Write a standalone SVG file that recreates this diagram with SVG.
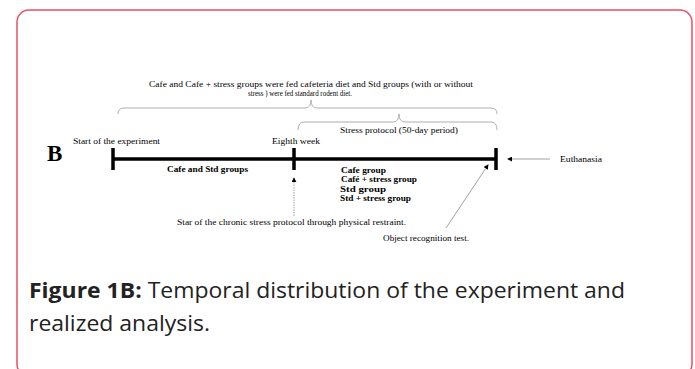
<svg xmlns="http://www.w3.org/2000/svg" width="695" height="369" viewBox="0 0 695 369">
<style>
.s{font-family:"Liberation Serif",serif;font-size:9px;fill:#000}
.b{font-family:"Liberation Serif",serif;font-size:9px;font-weight:bold;fill:#000}
.br{fill:none;stroke:#9a9a9a;stroke-width:0.8}
.tl{stroke:#000;stroke-width:3.5;fill:none}
.ar{stroke:#888;stroke-width:0.8;fill:none}
.cap{font-family:"Open Sans","Noto Sans",sans-serif;font-size:22px;fill:#222}
</style>
<defs>
<marker id="ah" viewBox="0 0 6 6" refX="5" refY="3" markerWidth="5" markerHeight="5" orient="auto" markerUnits="userSpaceOnUse">
<path d="M0,0 L6,3 L0,6 z" fill="#000"/>
</marker>
</defs>
<rect x="17" y="10" width="675" height="366" rx="12" ry="12" fill="#fff" stroke="#e8506a" stroke-width="1.5"/>

<g id="header">
<text class="s" x="149" y="87" textLength="324" lengthAdjust="spacingAndGlyphs">Cafe and Cafe + stress groups were fed cafeteria diet and Std groups (with or without</text>
<text class="s" x="248" y="96" textLength="104" lengthAdjust="spacingAndGlyphs">stress ) were fed standard rodent diet.</text>
</g>

<g id="connectors">
<path class="br" d="M118,114 Q118,108 124,108 H305 Q311,108 311,100 Q311,108 317,108 H491 Q497,108 497,114"/>
<path class="br" d="M298,130 Q298,122 304,122 H393 Q399,122 399,114 Q399,122 405,122 H491 Q497,122 497,130"/>
<line class="ar" x1="294" y1="216" x2="294" y2="178" stroke-dasharray="1.5,1" marker-end="url(#ah)"/>
<line class="ar" x1="550" y1="159" x2="508" y2="159" marker-end="url(#ah)"/>
<line class="ar" x1="446" y1="228" x2="488" y2="165" marker-end="url(#ah)"/>
</g>

<g id="timeline">
<line class="tl" x1="113" y1="159" x2="496" y2="159"/>
<line class="tl" x1="113" y1="148" x2="113" y2="170"/>
<line class="tl" x1="294" y1="148" x2="294" y2="170"/>
<line class="tl" x1="496" y1="148" x2="496" y2="170"/>
</g>

<g id="label-B"><text x="47" y="161" font-family="Liberation Serif,serif" font-size="23" font-weight="bold">B</text></g>
<g id="start"><text class="s" x="73" y="144" textLength="87" lengthAdjust="spacingAndGlyphs">Start of the experiment</text></g>
<g id="eighth"><text class="s" x="272" y="144" textLength="48" lengthAdjust="spacingAndGlyphs">Eighth week</text></g>
<g id="stress-protocol"><text class="s" x="340" y="133" textLength="118" lengthAdjust="spacingAndGlyphs">Stress protocol (50-day period)</text></g>
<g id="phase1"><text class="b" x="167" y="172" textLength="81" lengthAdjust="spacingAndGlyphs">Cafe and Std groups</text></g>
<g id="phase2">
<text class="b" x="341" y="173" textLength="45" lengthAdjust="spacingAndGlyphs">Cafe group</text>
<text class="b" x="341" y="182" textLength="76" lengthAdjust="spacingAndGlyphs">Café + stress group</text>
<text class="b" x="340" y="192" textLength="46" lengthAdjust="spacingAndGlyphs">Std group</text>
<text class="b" x="340" y="201" textLength="71" lengthAdjust="spacingAndGlyphs">Std + stress group</text>
</g>
<g id="chronic"><text class="s" x="177" y="225" textLength="229" lengthAdjust="spacingAndGlyphs">Star of the chronic stress protocol through physical restraint.</text></g>
<g id="object"><text class="s" x="383" y="241" textLength="86" lengthAdjust="spacingAndGlyphs">Object recognition test.</text></g>
<g id="euthanasia"><text class="s" x="560" y="162" textLength="42" lengthAdjust="spacingAndGlyphs">Euthanasia</text></g>

<g id="caption">
<text class="cap" x="29" y="298" textLength="596" lengthAdjust="spacingAndGlyphs"><tspan font-weight="bold">Figure 1B:</tspan> Temporal distribution of the experiment and</text>
<text class="cap" x="29" y="331" textLength="181" lengthAdjust="spacingAndGlyphs">realized analysis.</text>
</g>
</svg>
